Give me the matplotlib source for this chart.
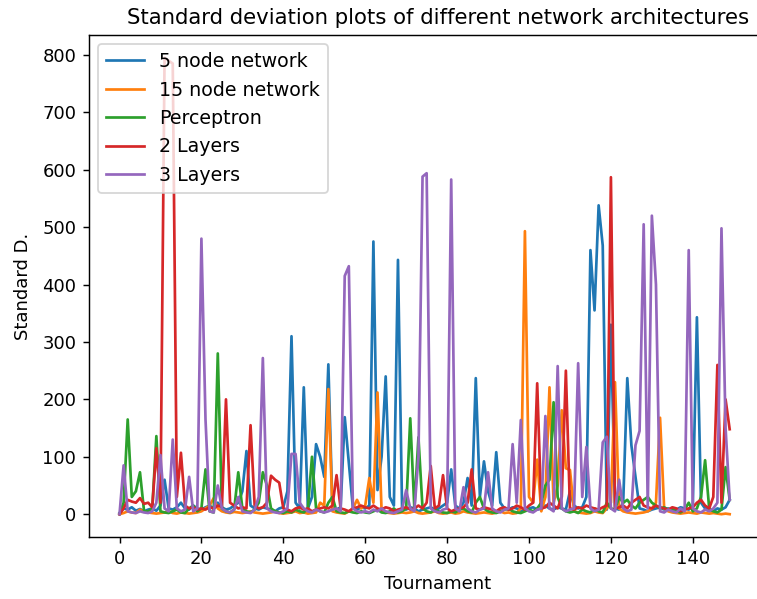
import matplotlib
matplotlib.use("Agg")
import matplotlib.pyplot as plt
import numpy as np

# standard deviation per tournament
five_node = [
    2, 10, 8, 12, 6, 9, 5, 8, 10, 6,
    15, 60, 10, 8, 12, 20, 10, 8, 15, 10,
    8, 12, 15, 10, 20, 12, 8, 10, 15, 20,
    40, 110, 15, 10, 8, 12, 10, 8, 5, 10,
    12, 40, 310, 20, 10, 221, 10, 30, 122, 100,
    65, 261, 10, 8, 12, 169, 90, 10, 8, 12,
    10, 15, 475, 42, 100, 240, 30, 15, 443, 10,
    8, 12, 10, 5, 8, 10, 12, 8, 10, 15,
    20, 78, 15, 10, 20, 63, 15, 237, 30, 92,
    40, 15, 108, 20, 10, 8, 12, 10, 5, 8,
    10, 12, 8, 10, 15, 10, 8, 12, 10, 8,
    40, 15, 10, 12, 30, 460, 355, 538, 468, 8,
    330, 10, 8, 20, 237, 120, 65, 10, 8, 5,
    8, 10, 12, 8, 10, 5, 8, 12, 10, 8,
    15, 343, 20, 10, 8, 5, 10, 8, 12, 25,
]

fifteen_node = [
    0, 2, 5, 3, 2, 8, 5, 3, 2, 1,
    2, 3, 5, 2, 1, 3, 2, 1, 2, 3,
    5, 10, 15, 28, 10, 5, 3, 2, 4, 3,
    2, 3, 5, 3, 2, 1, 2, 3, 5, 2,
    1, 2, 3, 5, 2, 3, 1, 2, 3, 20,
    15, 218, 5, 3, 2, 1, 5, 10, 25, 10,
    15, 63, 20, 212, 5, 3, 2, 1, 2, 3,
    2, 3, 5, 2, 1, 2, 3, 5, 2, 1,
    2, 3, 1, 2, 5, 3, 2, 1, 2, 3,
    2, 1, 3, 5, 2, 3, 1, 2, 10, 493,
    30, 20, 95, 5, 30, 221, 20, 50, 181, 80,
    77, 5, 3, 2, 1, 2, 5, 3, 2, 10,
    20, 230, 10, 5, 3, 2, 1, 2, 3, 5,
    10, 20, 168, 10, 5, 3, 2, 1, 2, 3,
    2, 1, 3, 2, 1, 2, 1, 0, 1, 0,
]

perceptron = [
    0, 20, 165, 30, 40, 73, 5, 5, 10, 136,
    5, 3, 2, 5, 8, 3, 2, 10, 15, 5,
    10, 78, 5, 3, 280, 10, 5, 3, 8, 73,
    10, 5, 3, 8, 20, 73, 50, 10, 5, 3,
    2, 5, 3, 8, 5, 3, 10, 100, 10, 5,
    3, 20, 30, 5, 3, 2, 5, 3, 2, 5,
    3, 2, 5, 8, 3, 2, 5, 10, 3, 5,
    10, 167, 10, 134, 10, 5, 3, 8, 5, 3,
    2, 5, 3, 8, 10, 5, 3, 20, 30, 10,
    5, 3, 2, 5, 8, 10, 5, 3, 2, 5,
    8, 5, 10, 20, 50, 60, 195, 30, 10, 5,
    3, 5, 2, 8, 5, 3, 10, 5, 3, 20,
    10, 8, 30, 20, 25, 15, 10, 20, 25, 30,
    20, 15, 10, 12, 8, 10, 5, 3, 8, 20,
    5, 10, 30, 94, 10, 5, 3, 8, 82, 25,
]

two_layers = [
    0, 10, 25, 22, 20, 28, 18, 20, 12, 115,
    20, 795, 790, 785, 30, 107, 15, 10, 12, 8,
    10, 8, 12, 10, 15, 12, 200, 20, 15, 10,
    12, 10, 155, 15, 10, 12, 20, 67, 60, 55,
    10, 8, 5, 10, 12, 8, 10, 5, 8, 10,
    12, 10, 15, 68, 10, 8, 5, 10, 12, 15,
    12, 10, 15, 10, 8, 12, 10, 5, 8, 10,
    12, 8, 10, 15, 10, 20, 84, 10, 15, 68,
    10, 5, 8, 10, 12, 20, 78, 10, 8, 12,
    10, 8, 5, 10, 12, 8, 10, 15, 12, 8,
    15, 20, 228, 10, 12, 20, 15, 10, 30, 250,
    10, 8, 12, 10, 15, 12, 10, 8, 12, 15,
    587, 10, 12, 15, 10, 20, 25, 30, 15, 12,
    10, 15, 12, 10, 8, 12, 10, 5, 8, 10,
    12, 20, 25, 15, 10, 30, 260, 20, 200, 148,
]

three_layers = [
    0, 85, 5, 3, 2, 5, 3, 2, 5, 20,
    103, 10, 5, 130, 10, 5, 8, 65, 5, 10,
    480, 165, 5, 3, 50, 10, 5, 3, 8, 30,
    5, 3, 2, 8, 30, 272, 10, 5, 3, 2,
    5, 10, 105, 105, 20, 10, 5, 3, 8, 5,
    3, 5, 8, 10, 5, 415, 432, 10, 5, 3,
    5, 3, 8, 5, 10, 5, 3, 2, 5, 8,
    42, 10, 5, 100, 588, 594, 10, 5, 3, 8,
    10, 583, 10, 5, 47, 10, 5, 3, 8, 10,
    73, 10, 5, 3, 8, 10, 122, 20, 164, 10,
    5, 3, 8, 10, 171, 10, 5, 258, 10, 5,
    8, 10, 263, 30, 117, 10, 5, 8, 125, 135,
    10, 5, 60, 10, 5, 8, 120, 145, 505, 10,
    520, 400, 5, 3, 8, 5, 3, 10, 5, 460,
    10, 5, 3, 8, 5, 10, 20, 498, 150, 25,
]

labels = ["5 node network", "15 node network", "Perceptron", "2 Layers", "3 Layers"]
x_ticks = [0, 20, 40, 60, 80, 100, 120, 140]


def main():
    series = [five_node, fifteen_node, perceptron, two_layers, three_layers]

    dpi = 130
    fig = plt.figure(figsize=(757 / dpi, 599 / dpi), dpi=dpi)
    # the reference is cropped on the right, so the axes run past the edge
    ax = fig.add_axes([89 / 757, 1 - 537 / 599, 698 / 757, 502 / 599])

    for values, label in zip(series, labels):
        x = np.arange(len(values))
        ax.plot(x, values, label=label)

    ax.set_xlim(-7.45, 163)
    ax.set_xticks(x_ticks)
    ax.set_title("Standard deviation plots of different network architectures",
                 fontsize=11.8)
    ax.set_xlabel("Tournament")
    ax.set_ylabel("Standard D.", labelpad=6)
    ax.legend(loc="upper left", fontsize=10.5)

    fig.savefig("out.png", dpi=dpi)


if __name__ == "__main__":
    main()
